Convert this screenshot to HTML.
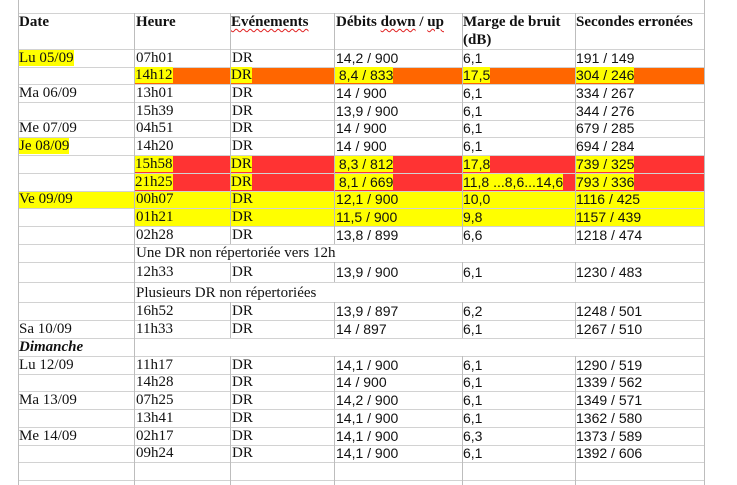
<!DOCTYPE html>
<html>
<head>
<meta charset="utf-8">
<style>
html,body{margin:0;padding:0;background:#fff;}
#w{position:relative;width:737px;height:485px;overflow:hidden;background:#fff;}
.c{position:absolute;white-space:nowrap;color:#111;}
.s{font-family:"Liberation Serif",serif;font-size:15px;}
.n{font-family:"Liberation Sans",sans-serif;font-size:14px;}
.b{font-weight:bold;font-family:"Liberation Serif",serif;font-size:15px;}
.h{background:#ffff00;}
.hl{position:absolute;height:1px;left:18px;width:686px;background:#d2d2d2;}
.vl{position:absolute;width:1px;background:#bdbdbd;}
.bg{position:absolute;}
.wv{text-decoration:underline wavy #e02020;text-decoration-thickness:1px;text-underline-offset:2px;}
</style>
</head>
<body>
<div id="w">
<!-- row backgrounds -->
<div class="bg" style="left:134px;top:67px;width:570px;height:17px;background:#ff6600;"></div>
<div class="bg" style="left:134px;top:155px;width:570px;height:36px;background:#ff3333;"></div>
<div class="bg" style="left:18px;top:191px;width:686px;height:17px;background:#ffff00;"></div>
<div class="bg" style="left:134px;top:208px;width:570px;height:18px;background:#ffff00;"></div>

<!-- horizontal lines -->
<div class="hl" style="top:13px"></div>
<div class="hl" style="top:49px"></div>
<div class="hl" style="top:67px"></div>
<div class="hl" style="top:84px"></div>
<div class="hl" style="top:102px"></div>
<div class="hl" style="top:120px"></div>
<div class="hl" style="top:137px"></div>
<div class="hl" style="top:155px"></div>
<div class="hl" style="top:173px"></div>
<div class="hl" style="top:191px"></div>
<div class="hl" style="top:208px"></div>
<div class="hl" style="top:226px"></div>
<div class="hl" style="top:244px"></div>
<div class="hl" style="top:262px"></div>
<div class="hl" style="top:282px"></div>
<div class="hl" style="top:302px"></div>
<div class="hl" style="top:320px"></div>
<div class="hl" style="top:338px"></div>
<div class="hl" style="top:356px"></div>
<div class="hl" style="top:374px"></div>
<div class="hl" style="top:391px"></div>
<div class="hl" style="top:409px"></div>
<div class="hl" style="top:427px"></div>
<div class="hl" style="top:445px"></div>
<div class="hl" style="top:462px"></div>
<div class="hl" style="top:480px"></div>

<!-- vertical lines -->
<div class="vl" style="left:18px;top:0;height:485px"></div>
<div class="vl" style="left:704px;top:0;height:485px"></div>
<div class="vl" style="left:134px;top:13px;height:472px"></div>

<div class="vl" style="left:230px;top:13px;height:231px"></div>
<div class="vl" style="left:230px;top:262px;height:20px"></div>
<div class="vl" style="left:230px;top:302px;height:36px"></div>
<div class="vl" style="left:230px;top:356px;height:129px"></div>

<div class="vl" style="left:334px;top:13px;height:231px"></div>
<div class="vl" style="left:334px;top:262px;height:20px"></div>
<div class="vl" style="left:334px;top:302px;height:36px"></div>
<div class="vl" style="left:334px;top:356px;height:129px"></div>

<div class="vl" style="left:462px;top:13px;height:231px"></div>
<div class="vl" style="left:462px;top:262px;height:20px"></div>
<div class="vl" style="left:462px;top:302px;height:36px"></div>
<div class="vl" style="left:462px;top:356px;height:129px"></div>

<div class="vl" style="left:575px;top:13px;height:231px"></div>
<div class="vl" style="left:575px;top:262px;height:20px"></div>
<div class="vl" style="left:575px;top:302px;height:36px"></div>
<div class="vl" style="left:575px;top:356px;height:129px"></div>

<!-- header -->
<div class="c b" style="left:19px;top:13px;line-height:18px">Date</div>
<div class="c b" style="left:136px;top:13px;line-height:18px">Heure</div>
<div class="c b" style="left:231px;top:13px;line-height:18px"><span class="wv">Evénements</span></div>
<div class="c b" style="left:336px;top:13px;line-height:18px">Débits <span class="wv">down</span> / <span class="wv">up</span></div>
<div class="c b" style="left:463px;top:13px;line-height:18px">Marge de bruit<br>(dB)</div>
<div class="c b" style="left:576px;top:13px;line-height:18px">Secondes erronées</div>

<!-- row 1 -->
<div class="c s" style="left:19px;top:49px;line-height:18px"><span class="h">Lu 05/09</span></div>
<div class="c s" style="left:136px;top:49px;line-height:18px">07h01</div>
<div class="c s" style="left:232px;top:49px;line-height:18px">DR</div>
<div class="c n" style="left:336px;top:49px;line-height:18px">14,2 / 900</div>
<div class="c n" style="left:463px;top:49px;line-height:18px">6,1</div>
<div class="c n" style="left:576px;top:49px;line-height:18px">191 / 149</div>

<!-- row 2 -->
<div class="c s" style="left:135px;top:67px;line-height:17px"><span class="h">14h12</span></div>
<div class="c s" style="left:231px;top:67px;line-height:17px"><span class="h">DR</span></div>
<div class="c n" style="left:335px;top:67px;line-height:17px"><span class="h">&nbsp;8,4 / 833</span></div>
<div class="c n" style="left:463px;top:67px;line-height:17px"><span class="h">17,5</span></div>
<div class="c n" style="left:576px;top:67px;line-height:17px"><span class="h">304 / 246</span></div>

<!-- row 3 -->
<div class="c s" style="left:19px;top:84px;line-height:18px">Ma 06/09</div>
<div class="c s" style="left:136px;top:84px;line-height:18px">13h01</div>
<div class="c s" style="left:232px;top:84px;line-height:18px">DR</div>
<div class="c n" style="left:336px;top:84px;line-height:18px">14 / 900</div>
<div class="c n" style="left:463px;top:84px;line-height:18px">6,1</div>
<div class="c n" style="left:576px;top:84px;line-height:18px">334 / 267</div>

<!-- row 4 -->
<div class="c s" style="left:136px;top:102px;line-height:18px">15h39</div>
<div class="c s" style="left:232px;top:102px;line-height:18px">DR</div>
<div class="c n" style="left:336px;top:102px;line-height:18px">13,9 / 900</div>
<div class="c n" style="left:463px;top:102px;line-height:18px">6,1</div>
<div class="c n" style="left:576px;top:102px;line-height:18px">344 / 276</div>

<!-- row 5 -->
<div class="c s" style="left:19px;top:120px;line-height:17px">Me 07/09</div>
<div class="c s" style="left:136px;top:120px;line-height:17px">04h51</div>
<div class="c s" style="left:232px;top:120px;line-height:17px">DR</div>
<div class="c n" style="left:336px;top:120px;line-height:17px">14 / 900</div>
<div class="c n" style="left:463px;top:120px;line-height:17px">6,1</div>
<div class="c n" style="left:576px;top:120px;line-height:17px">679 / 285</div>

<!-- row 6 -->
<div class="c s" style="left:19px;top:137px;line-height:18px"><span class="h">Je 08/09</span></div>
<div class="c s" style="left:136px;top:137px;line-height:18px">14h20</div>
<div class="c s" style="left:232px;top:137px;line-height:18px">DR</div>
<div class="c n" style="left:336px;top:137px;line-height:18px">14 / 900</div>
<div class="c n" style="left:463px;top:137px;line-height:18px">6,1</div>
<div class="c n" style="left:576px;top:137px;line-height:18px">694 / 284</div>

<!-- row 7 -->
<div class="c s" style="left:135px;top:155px;line-height:18px"><span class="h">15h58</span></div>
<div class="c s" style="left:231px;top:155px;line-height:18px"><span class="h">DR</span></div>
<div class="c n" style="left:335px;top:155px;line-height:18px"><span class="h">&nbsp;8,3 / 812</span></div>
<div class="c n" style="left:463px;top:155px;line-height:18px"><span class="h">17,8</span></div>
<div class="c n" style="left:576px;top:155px;line-height:18px"><span class="h">739 / 325</span></div>

<!-- row 8 -->
<div class="c s" style="left:135px;top:173px;line-height:18px"><span class="h">21h25</span></div>
<div class="c s" style="left:231px;top:173px;line-height:18px"><span class="h">DR</span></div>
<div class="c n" style="left:335px;top:173px;line-height:18px"><span class="h">&nbsp;8,1 / 669</span></div>
<div class="c n" style="left:463px;top:173px;line-height:18px"><span class="h">11,8 ...8,6...14,6</span></div>
<div class="c n" style="left:576px;top:173px;line-height:18px"><span class="h">793 / 336</span></div>

<!-- row 9 -->
<div class="c s" style="left:19px;top:191px;line-height:17px">Ve 09/09</div>
<div class="c s" style="left:136px;top:191px;line-height:17px">00h07</div>
<div class="c s" style="left:232px;top:191px;line-height:17px">DR</div>
<div class="c n" style="left:336px;top:191px;line-height:17px">12,1 / 900</div>
<div class="c n" style="left:463px;top:191px;line-height:17px">10,0</div>
<div class="c n" style="left:576px;top:191px;line-height:17px">1116 / 425</div>

<!-- row 10 -->
<div class="c s" style="left:136px;top:208px;line-height:18px">01h21</div>
<div class="c s" style="left:232px;top:208px;line-height:18px">DR</div>
<div class="c n" style="left:336px;top:208px;line-height:18px">11,5 / 900</div>
<div class="c n" style="left:463px;top:208px;line-height:18px">9,8</div>
<div class="c n" style="left:576px;top:208px;line-height:18px">1157 / 439</div>

<!-- row 11 -->
<div class="c s" style="left:136px;top:226px;line-height:18px">02h28</div>
<div class="c s" style="left:232px;top:226px;line-height:18px">DR</div>
<div class="c n" style="left:336px;top:226px;line-height:18px">13,8 / 899</div>
<div class="c n" style="left:463px;top:226px;line-height:18px">6,6</div>
<div class="c n" style="left:576px;top:226px;line-height:18px">1218 / 474</div>

<!-- row 12 -->
<div class="c s" style="left:136px;top:244px;line-height:18px">Une DR non répertoriée vers 12h</div>

<!-- row 13 -->
<div class="c s" style="left:136px;top:262px;line-height:20px">12h33</div>
<div class="c s" style="left:232px;top:262px;line-height:20px">DR</div>
<div class="c n" style="left:336px;top:262px;line-height:20px">13,9 / 900</div>
<div class="c n" style="left:463px;top:262px;line-height:20px">6,1</div>
<div class="c n" style="left:576px;top:262px;line-height:20px">1230 / 483</div>

<!-- row 14 -->
<div class="c s" style="left:136px;top:283px;line-height:20px">Plusieurs DR non répertoriées</div>

<!-- row 15 -->
<div class="c s" style="left:136px;top:302px;line-height:18px">16h52</div>
<div class="c s" style="left:232px;top:302px;line-height:18px">DR</div>
<div class="c n" style="left:336px;top:302px;line-height:18px">13,9 / 897</div>
<div class="c n" style="left:463px;top:302px;line-height:18px">6,2</div>
<div class="c n" style="left:576px;top:302px;line-height:18px">1248 / 501</div>

<!-- row 16 -->
<div class="c s" style="left:19px;top:320px;line-height:18px">Sa 10/09</div>
<div class="c s" style="left:136px;top:320px;line-height:18px">11h33</div>
<div class="c s" style="left:232px;top:320px;line-height:18px">DR</div>
<div class="c n" style="left:336px;top:320px;line-height:18px">14 / 897</div>
<div class="c n" style="left:463px;top:320px;line-height:18px">6,1</div>
<div class="c n" style="left:576px;top:320px;line-height:18px">1267 / 510</div>

<!-- row 17 -->
<div class="c s" style="left:19px;top:338px;line-height:18px;font-weight:bold;font-style:italic">Dimanche</div>

<!-- row 18 -->
<div class="c s" style="left:19px;top:356px;line-height:18px">Lu 12/09</div>
<div class="c s" style="left:136px;top:356px;line-height:18px">11h17</div>
<div class="c s" style="left:232px;top:356px;line-height:18px">DR</div>
<div class="c n" style="left:336px;top:356px;line-height:18px">14,1 / 900</div>
<div class="c n" style="left:463px;top:356px;line-height:18px">6,1</div>
<div class="c n" style="left:576px;top:356px;line-height:18px">1290 / 519</div>

<!-- row 19 -->
<div class="c s" style="left:136px;top:374px;line-height:17px">14h28</div>
<div class="c s" style="left:232px;top:374px;line-height:17px">DR</div>
<div class="c n" style="left:336px;top:374px;line-height:17px">14 / 900</div>
<div class="c n" style="left:463px;top:374px;line-height:17px">6,1</div>
<div class="c n" style="left:576px;top:374px;line-height:17px">1339 / 562</div>

<!-- row 20 -->
<div class="c s" style="left:19px;top:391px;line-height:18px">Ma 13/09</div>
<div class="c s" style="left:136px;top:391px;line-height:18px">07h25</div>
<div class="c s" style="left:232px;top:391px;line-height:18px">DR</div>
<div class="c n" style="left:336px;top:391px;line-height:18px">14,2 / 900</div>
<div class="c n" style="left:463px;top:391px;line-height:18px">6,1</div>
<div class="c n" style="left:576px;top:391px;line-height:18px">1349 / 571</div>

<!-- row 21 -->
<div class="c s" style="left:136px;top:409px;line-height:18px">13h41</div>
<div class="c s" style="left:232px;top:409px;line-height:18px">DR</div>
<div class="c n" style="left:336px;top:409px;line-height:18px">14,1 / 900</div>
<div class="c n" style="left:463px;top:409px;line-height:18px">6,1</div>
<div class="c n" style="left:576px;top:409px;line-height:18px">1362 / 580</div>

<!-- row 22 -->
<div class="c s" style="left:19px;top:427px;line-height:18px">Me 14/09</div>
<div class="c s" style="left:136px;top:427px;line-height:18px">02h17</div>
<div class="c s" style="left:232px;top:427px;line-height:18px">DR</div>
<div class="c n" style="left:336px;top:427px;line-height:18px">14,1 / 900</div>
<div class="c n" style="left:463px;top:427px;line-height:18px">6,3</div>
<div class="c n" style="left:576px;top:427px;line-height:18px">1373 / 589</div>

<!-- row 23 -->
<div class="c s" style="left:136px;top:445px;line-height:17px">09h24</div>
<div class="c s" style="left:232px;top:445px;line-height:17px">DR</div>
<div class="c n" style="left:336px;top:445px;line-height:17px">14,1 / 900</div>
<div class="c n" style="left:463px;top:445px;line-height:17px">6,1</div>
<div class="c n" style="left:576px;top:445px;line-height:17px">1392 / 606</div>
</div>
</body>
</html>
